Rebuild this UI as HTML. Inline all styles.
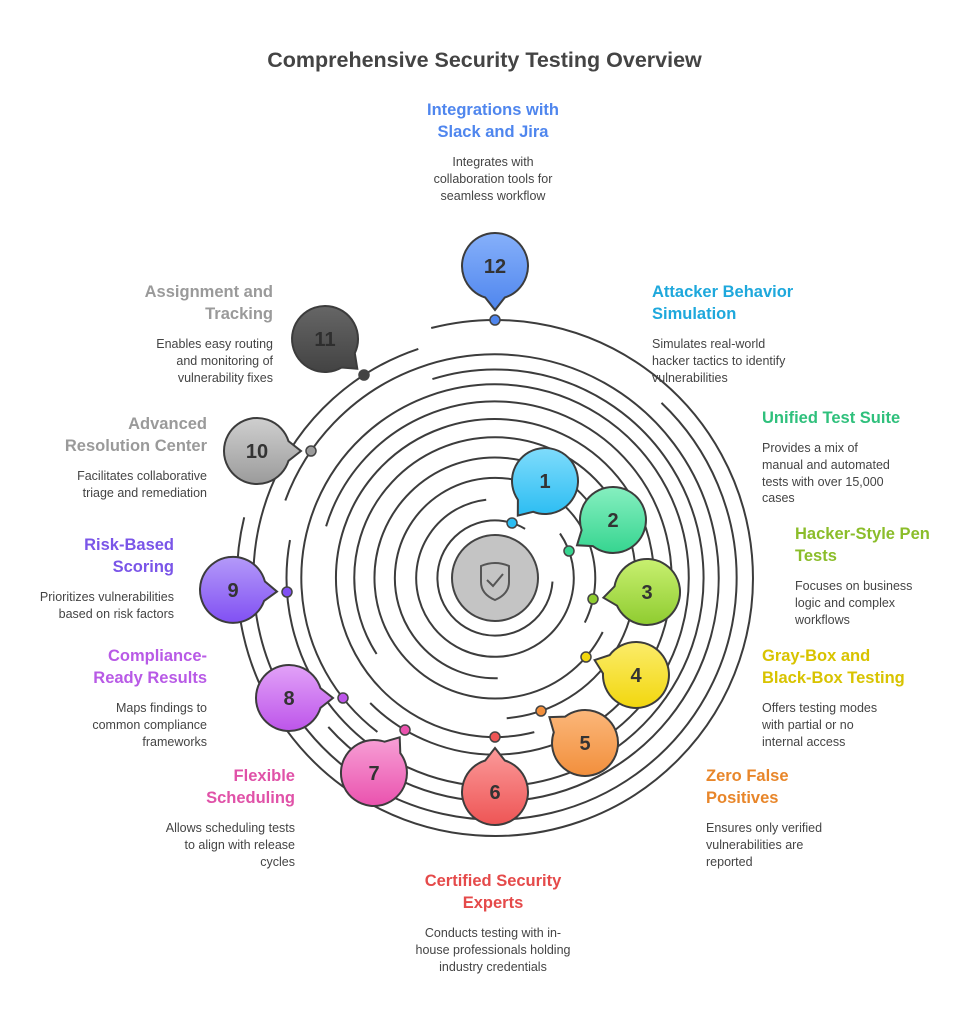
<!DOCTYPE html>
<html><head><meta charset="utf-8">
<style>
body{margin:0;background:#fff;width:969px;height:1024px;position:relative;overflow:hidden;font-family:"Liberation Sans",Arial,sans-serif}
.t{position:absolute;color:#444}
.h{font-weight:bold;font-size:16.5px;line-height:22px}
.d{font-size:12.5px;line-height:16.8px;color:#444;margin-top:11px}
.c{text-align:center}.r{text-align:right}
svg{position:absolute;left:0;top:0}
</style></head><body>
<svg id="s" width="969" height="1024" viewBox="0 0 969 1024"></svg>
<div class="t c" style="left:0;width:969px;top:48px;font-size:21.5px;font-weight:bold;color:#444">Comprehensive Security Testing Overview</div>

<div class="t c" style="left:373px;width:240px;top:99px"><div class="h" style="color:#4f86ee">Integrations with<br>Slack and Jira</div><div class="d">Integrates with<br>collaboration tools for<br>seamless workflow</div></div>

<div class="t" style="left:652px;top:281px"><div class="h" style="color:#1ea8dc">Attacker Behavior<br>Simulation</div><div class="d">Simulates real-world<br>hacker tactics to identify<br>vulnerabilities</div></div>

<div class="t" style="left:762px;top:407px"><div class="h" style="color:#2fc07c">Unified Test Suite</div><div class="d">Provides a mix of<br>manual and automated<br>tests with over 15,000<br>cases</div></div>

<div class="t" style="left:795px;top:523px"><div class="h" style="color:#8bbd2a">Hacker-Style Pen<br>Tests</div><div class="d">Focuses on business<br>logic and complex<br>workflows</div></div>

<div class="t" style="left:762px;top:645px"><div class="h" style="color:#d8c300">Gray-Box and<br>Black-Box Testing</div><div class="d">Offers testing modes<br>with partial or no<br>internal access</div></div>

<div class="t" style="left:706px;top:765px"><div class="h" style="color:#e8862a">Zero False<br>Positives</div><div class="d">Ensures only verified<br>vulnerabilities are<br>reported</div></div>

<div class="t c" style="left:373px;width:240px;top:870px"><div class="h" style="color:#e54a4a">Certified Security<br>Experts</div><div class="d">Conducts testing with in-<br>house professionals holding<br>industry credentials</div></div>

<div class="t r" style="right:674px;top:765px"><div class="h" style="color:#e052a8">Flexible<br>Scheduling</div><div class="d">Allows scheduling tests<br>to align with release<br>cycles</div></div>

<div class="t r" style="right:762px;top:645px"><div class="h" style="color:#b85ae6">Compliance-<br>Ready Results</div><div class="d">Maps findings to<br>common compliance<br>frameworks</div></div>

<div class="t r" style="right:795px;top:534px"><div class="h" style="color:#7a55e8">Risk-Based<br>Scoring</div><div class="d">Prioritizes vulnerabilities<br>based on risk factors</div></div>

<div class="t r" style="right:762px;top:413px"><div class="h" style="color:#9a9a9a">Advanced<br>Resolution Center</div><div class="d">Facilitates collaborative<br>triage and remediation</div></div>

<div class="t r" style="right:696px;top:281px"><div class="h" style="color:#9a9a9a">Assignment and<br>Tracking</div><div class="d">Enables easy routing<br>and monitoring of<br>vulnerability fixes</div></div>

<script>
var CX=495,CY=578,s=document.getElementById('s'),h='';
var B=[
[545,481,512,523,'#7fdcfc','#2cbdf2'],
[613,520,569,551,'#86efc0','#36d590'],
[647,592,593,599,'#c8f070','#8fcc30'],
[636,675,586,657,'#fbec6a','#f2d70e'],
[585,743,541,711,'#fbb77a','#f28f3c'],
[495,792,495,737,'#fb9a9a','#ee5555'],
[374,773,405,730,'#f7a0d6','#ea52ae'],
[289,698,343,698,'#e2a2f8','#bd55ea'],
[233,590,287,592,'#b49af9','#8150f3'],
[257,451,311,451,'#cfcfcf','#9b9b9b'],
[325,339,364,375,'#666','#434343'],
[495,266,495,320,'#86b0fa','#4f86ee']];
var defs='<defs>';
B.forEach(function(b,i){defs+='<linearGradient id="g'+i+'" x1="0" y1="0" x2="0" y2="1"><stop offset="0" stop-color="'+b[4]+'"/><stop offset="1" stop-color="'+b[5]+'"/></linearGradient>';});
defs+='</defs>';h+=defs;
function pt(r,a){return [CX+r*Math.cos(a),CY+r*Math.sin(a)];}
B.forEach(function(b,i){
 var r=Math.hypot(b[2]-CX,b[3]-CY);
 var a=Math.atan2(b[3]-CY,b[2]-CX);
 var ext=(i%2==0)?0.25:-0.25;
 var a1=a+ext, a2=a1-(ext>0?1:-1)*5.2;
 var p1=pt(r,a1),p2=pt(r,a2);
 var sw=ext>0?0:1;
 h+='<path d="M'+p1[0].toFixed(1)+' '+p1[1].toFixed(1)+' A'+r.toFixed(1)+' '+r.toFixed(1)+' 0 1 '+sw+' '+p2[0].toFixed(1)+' '+p2[1].toFixed(1)+'" fill="none" stroke="#3c3c3c" stroke-width="2"/>';
});
h+='<circle cx="'+CX+'" cy="'+CY+'" r="43" fill="#c4c4c4" stroke="#444" stroke-width="2"/>';
h+='<path d="M481 566 Q495 560 509 566 L509 582 Q509 594 495 600 Q481 594 481 582 Z" fill="none" stroke="#555" stroke-width="2"/><path d="M487 580 L493 586 L503 574" fill="none" stroke="#555" stroke-width="2"/>';
B.forEach(function(b,i){
 h+='<circle cx="'+b[2]+'" cy="'+b[3]+'" r="5" fill="'+b[5]+'" stroke="#444" stroke-width="1.5"/>';
 var R=33,dx=b[2]-b[0],dy=b[3]-b[1],d=Math.hypot(dx,dy),th=Math.atan2(dy,dx);
 var tl=Math.min(d-9,R+11),tip=[b[0]+tl*Math.cos(th),b[1]+tl*Math.sin(th)];
 var o=0.3,q1=[b[0]+R*Math.cos(th+o),b[1]+R*Math.sin(th+o)],q2=[b[0]+R*Math.cos(th-o),b[1]+R*Math.sin(th-o)];
 h+='<path d="M'+tip[0].toFixed(1)+' '+tip[1].toFixed(1)+' L'+q1[0].toFixed(1)+' '+q1[1].toFixed(1)+' A'+R+' '+R+' 0 1 1 '+q2[0].toFixed(1)+' '+q2[1].toFixed(1)+' Z" fill="url(#g'+i+')" stroke="#3c3c3c" stroke-width="2" stroke-linejoin="miter"/>';
 h+='<text x="'+b[0]+'" y="'+(b[1]+7)+'" text-anchor="middle" font-family="Liberation Sans,Arial,sans-serif" font-weight="bold" font-size="20" fill="'+(i==10?'#2e2e2e':'#333')+'">'+(i+1)+'</text>';
});
s.innerHTML=h;
</script>
</body></html>
